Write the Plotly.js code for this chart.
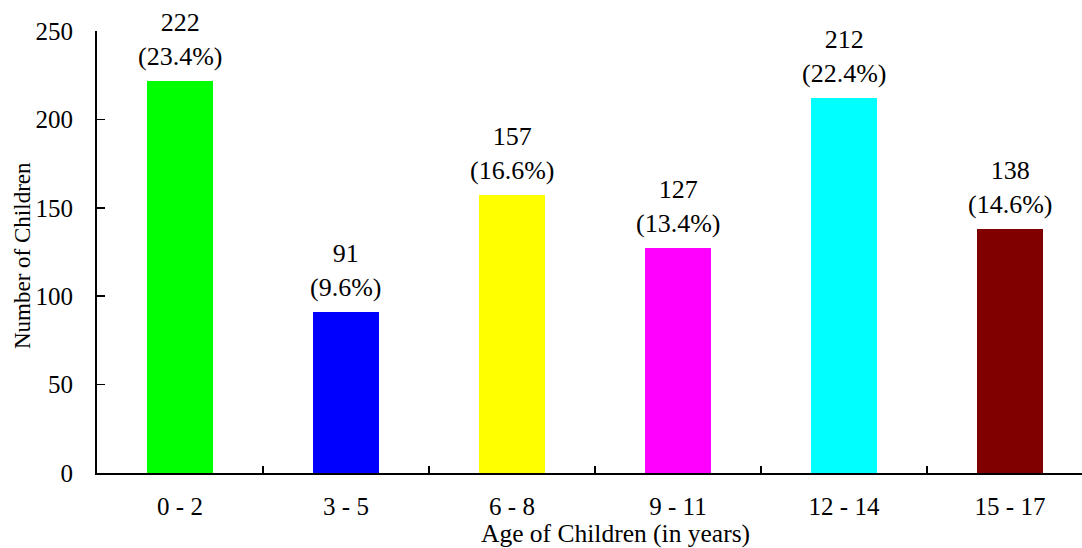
<!DOCTYPE html>
<html>
<head>
<meta charset="utf-8">
<script src="https://cdn.plot.ly/plotly-3.0.1.min.js"></script>
<style>html,body{margin:0;padding:0;background:#fff;}#chart{width:1082px;height:548px;}</style>
</head>
<body>
<div id="chart"></div>
<script>
const categories = ["0 - 2", "3 - 5", "6 - 8", "9 - 11", "12 - 14", "15 - 17"];
const counts = [222, 91, 157, 127, 212, 138];
const percents = ["23.4%", "9.6%", "16.6%", "13.4%", "22.4%", "14.6%"];
const colors = ["#00ff00", "#0000ff", "#ffff00", "#ff00ff", "#00ffff", "#800000"];
const yTicks = [0, 50, 100, 150, 200, 250];
const xTitle = "Age of Children (in years)";
const yTitle = "Number of Children";

const font = {family: "Liberation Serif, Times New Roman, serif", color: "#000"};
const F = (s) => Object.assign({size: s}, font);

const trace = {
  type: "bar",
  x: categories.map((c, i) => i),
  y: counts,
  width: 0.4,
  marker: {color: colors, line: {width: 0}},
  hoverinfo: "none"
};

const annotations = counts.map((v, i) => ({
  x: i, y: v, xref: "x", yref: "y",
  text: v + "<br>(" + percents[i] + ")",
  showarrow: false, yanchor: "bottom", yshift: 8,
  font: F(26)
}));
annotations.push({
  xref: "paper", yref: "paper", x: 0.526, y: 0, yanchor: "top", yshift: -44,
  text: xTitle, showarrow: false, font: F(25.5)
});
annotations.push({
  xref: "paper", yref: "paper", x: 0, y: 0.5, xanchor: "center", yanchor: "middle",
  xshift: -75, yshift: -4, textangle: -90,
  text: yTitle, showarrow: false, font: F(23)
});

const layout = {
  width: 1082, height: 548,
  margin: {l: 97, r: 0, t: 31, b: 75},
  paper_bgcolor: "#fff", plot_bgcolor: "#fff",
  showlegend: false,
  font: F(25),
  bargap: 0,
  xaxis: {
    range: [-0.5, 5.434],
    tickmode: "array",
    tickvals: categories.map((c, i) => i),
    ticktext: categories,
    ticks: "", showgrid: false, zeroline: false,
    showline: true, linecolor: "#000", linewidth: 2,
    tickfont: F(25),
    ticklabelstandoff: 10
  },
  xaxis2: {
    overlaying: "x", matches: "x", range: [-0.5, 5.434],
    tickmode: "array",
    tickvals: [0.5, 1.5, 2.5, 3.5, 4.5],
    showticklabels: false, ticks: "inside", ticklen: 7, tickwidth: 1.5, tickcolor: "#000",
    showgrid: false, zeroline: false, showline: false
  },
  yaxis: {
    range: [0, 250],
    tickmode: "array", tickvals: yTicks,
    ticks: "inside", ticklen: 8, tickwidth: 1.5, tickcolor: "#000",
    showgrid: false, zeroline: false,
    showline: true, linecolor: "#000", linewidth: 2,
    tickfont: F(25),
    ticklabelstandoff: 17
  },
  annotations: annotations
};

const dummy = {type: "scatter", x: [0], y: [0], xaxis: "x2", yaxis: "y", mode: "markers", marker: {opacity: 0}, hoverinfo: "none"};

Plotly.newPlot("chart", [trace, dummy], layout, {displayModeBar: false, staticPlot: true});
</script>
</body>
</html>
